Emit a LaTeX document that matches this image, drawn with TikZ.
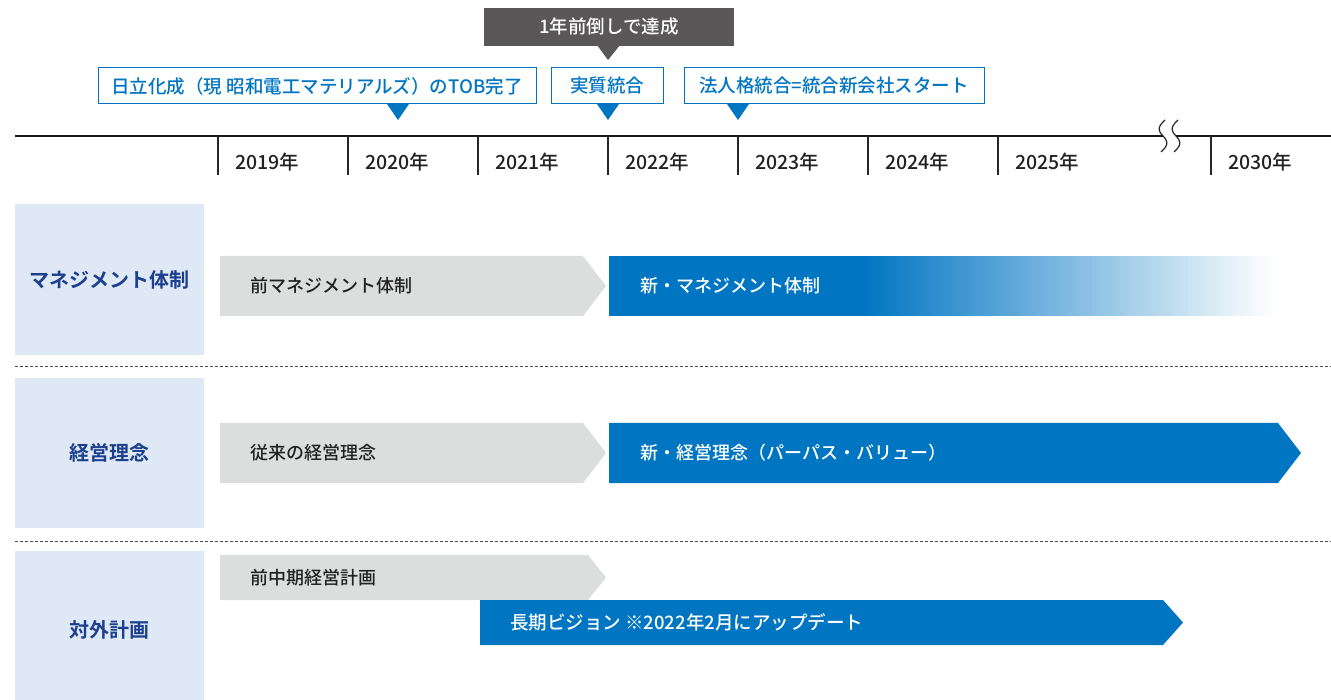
\documentclass[tikz,border=0pt]{standalone}
\usepackage{fontspec}
\setmainfont{Noto Sans CJK JP Medium}
\newfontfamily\jpbold{Noto Sans CJK JP Bold}
\definecolor{mainblue}{HTML}{0075C2}
\definecolor{navy}{HTML}{1C3F8E}
\definecolor{lightrow}{HTML}{DFE8F5}
\definecolor{greybar}{HTML}{DCDDDD}
\definecolor{darkgrey}{HTML}{595757}
\definecolor{txt}{HTML}{222222}
\begin{document}
\begin{tikzpicture}[x=1pt,y=-1pt,
  txtfont/.style={font=\fontsize{18}{21}\selectfont},
  yearlbl/.style={font=\fontsize{19.5}{22}\selectfont, text=txt, anchor=west, inner sep=0pt},
  eventbox/.style={draw=mainblue, line width=1pt, fill=white, text=mainblue, font=\fontsize{18.5}{21}\selectfont, inner sep=0pt, minimum height=36pt},
  rowbox/.style={fill=lightrow, draw=none},
  rowlbl/.style={font=\jpbold\fontsize{20}{23}\selectfont, text=navy, inner sep=0pt},
  bartext/.style={txtfont, anchor=west, inner sep=0pt},
  tick/.style={line width=1.2pt, black!85},
  sep/.style={line width=0.8pt, black!70, dash pattern=on 3pt off 2pt}
]
\useasboundingbox (0,0) rectangle (1331,700);

% ---------- timeline ----------
\coordinate (tlL) at (15,136);
\coordinate (brkA) at (1163,136);
\coordinate (brkB) at (1176,136);
\coordinate (tlR) at (1331,136);
\draw[line width=2.5pt, black!90] (tlL) -- (brkA);
\draw[line width=2.5pt, black!90] (brkB) -- (tlR);
\foreach \bx in {1163,1176}{
  \draw[line width=1.2pt, black!85] (\bx+2,120) .. controls (\bx-7,128) and (\bx-4,132) .. (\bx,136)
     .. controls (\bx+4,140) and (\bx+7,144) .. (\bx-2,152);
}
\foreach \tx in {218,348,478,608,738,868,998,1211}{
  \draw[tick] (\tx,136) -- (\tx,175);
}
\node[yearlbl] (y2019) at (235,162) {2019年};
\node[yearlbl] (y2020) at (365,162) {2020年};
\node[yearlbl] (y2021) at (495,162) {2021年};
\node[yearlbl] (y2022) at (625,162) {2022年};
\node[yearlbl] (y2023) at (755,162) {2023年};
\node[yearlbl] (y2024) at (885,162) {2024年};
\node[yearlbl] (y2025) at (1015,162) {2025年};
\node[yearlbl] (y2030) at (1228,162) {2030年};

% ---------- callout ----------
\fill[darkgrey] (484,8) rectangle (734,46);
\fill[darkgrey] (597,45) -- (620,45) -- (608,60) -- cycle;
\node[font=\fontsize{18.5}{21}\selectfont, text=white, inner sep=0pt] (early) at (609,27) {1年前倒しで達成};

% ---------- event boxes ----------
\node[eventbox, minimum width=438pt] (ev1) at (317,86) {日立化成（現 昭和電工マテリアルズ）のTOB完了};
\node[eventbox, minimum width=112pt] (ev2) at (607,86) {実質統合};
\node[eventbox, minimum width=300pt] (ev3) at (834,86) {法人格統合=統合新会社スタート};
\fill[mainblue] (387,104) -- (409,104) -- (398,120) -- cycle;
\fill[mainblue] (597,104) -- (619,104) -- (608,120) -- cycle;
\fill[mainblue] (727,104) -- (749,104) -- (738,120) -- cycle;

% ---------- row label boxes ----------
\fill[rowbox] (15,204) rectangle (204,355);
\fill[rowbox] (15,378) rectangle (204,528);
\fill[rowbox] (15,551) rectangle (204,700);
\node[rowlbl] (r1) at (109,280) {マネジメント体制};
\node[rowlbl] (r2) at (109,453) {経営理念};
\node[rowlbl] (r3) at (109,630) {対外計画};

\draw[sep] (15,366.5) -- (1331,366.5);
\draw[sep] (15,541) -- (1331,541);

% ---------- row 1 ----------
\fill[greybar] (220,256) -- (583,256) -- (606,286) -- (583,316) -- (220,316) -- cycle;
\node[bartext, text=txt] (old1) at (250,286) {前マネジメント体制};
\fill[mainblue] (609,256) rectangle (862,316);
\foreach \i in {0,...,103}{
  \pgfmathsetmacro{\pct}{100-\i*0.97}
  \pgfmathsetmacro{\xa}{860+\i*4}
  \fill[mainblue!\pct!white] (\xa,256) rectangle (\xa+4.6,316);
}
\node[bartext, text=white] (new1) at (640,286) {新・マネジメント体制};

% ---------- row 2 ----------
\fill[greybar] (220,423) -- (583,423) -- (606,453) -- (583,483) -- (220,483) -- cycle;
\node[bartext, text=txt] (old2) at (250,453) {従来の経営理念};
\fill[mainblue] (609,423) -- (1278,423) -- (1301,453) -- (1278,483) -- (609,483) -- cycle;
\node[bartext, text=white] (new2) at (640,453) {新・経営理念（パーパス・バリュー）};

% ---------- row 3 ----------
\fill[greybar] (220,555) -- (588,555) -- (606,577.5) -- (588,600) -- (220,600) -- cycle;
\node[bartext, text=txt] (old3) at (250,577.5) {前中期経営計画};
\fill[mainblue] (480,600) -- (1163,600) -- (1183,622.5) -- (1163,645) -- (480,645) -- cycle;
\node[bartext, text=white, font=\fontsize{18.5}{21}\selectfont] (new3) at (510,622.5) {長期ビジョン ※2022年2月にアップデート};
\end{tikzpicture}
\end{document}
